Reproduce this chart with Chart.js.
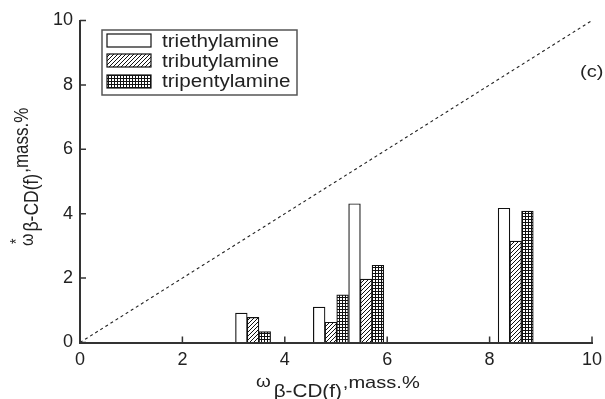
<!DOCTYPE html>
<html>
<head>
<meta charset="utf-8">
<script src="https://cdn.jsdelivr.net/npm/chart.js@4.4.1/dist/chart.umd.min.js"></script>
<style>
  html, body { margin: 0; padding: 0; background: #fff; }
  #chart { display: block; }
</style>
</head>
<body>
<canvas id="chart" width="605" height="399"></canvas>
<script>
// data
const seriesNames = ["triethylamine", "tributylamine", "tripentylamine"];
const feedConc = [3.38, 4.90, 5.59, 8.51];          // x, mass.%
const triethylamine = [0.91, 1.10, 4.31, 4.17];
const tributylamine = [0.78, 0.63, 1.97, 3.15];
const tripentylamine = [0.34, 1.48, 2.40, 4.08];
const diagonalX = [0, 10];
const diagonalY = [0, 10];
const axisTicks = [0, 2, 4, 6, 8, 10];

const FONT = '"Liberation Sans", Arial, Helvetica, sans-serif';
const INK = "#222";
const SX = 1.18; // the original figure is stretched sideways a bit

function makePattern(kind) {
  const c = document.createElement("canvas");
  const n = kind === "hatch" ? 4 : 3;
  c.width = n; c.height = n;
  const g = c.getContext("2d");
  g.fillStyle = "#fff";
  g.fillRect(0, 0, n, n);
  g.strokeStyle = "#111";
  g.lineWidth = 1;
  if (kind === "hatch") {
    g.beginPath();
    g.moveTo(-1, n + 1); g.lineTo(n + 1, -1);
    g.moveTo(-1, 1); g.lineTo(1, -1);
    g.moveTo(n - 1, n + 1); g.lineTo(n + 1, n - 1);
    g.stroke();
  } else {
    g.fillStyle = "#111";
    g.fillRect(0, 0, n, 1);
    g.fillRect(0, 0, 1, n);
  }
  return g.createPattern(c, "repeat");
}

const fills = ["#fff", makePattern("hatch"), makePattern("grid")];
const values = [triethylamine, tributylamine, tripentylamine];

const barSets = seriesNames.map((name, i) => ({
  type: "bar",
  label: name,
  data: feedConc.map((x, j) => ({ x, y: values[i][j] })),
  backgroundColor: fills[i],
  borderColor: "#111",
  borderWidth: 1.2,
  barThickness: 11.7,
  order: 2,
}));

const diagonalSet = {
  type: "line",
  label: "diagonal",
  data: diagonalX.map((x, i) => ({ x, y: diagonalY[i] })),
  borderColor: "#222",
  borderWidth: 1.1,
  borderDash: [3, 3],
  pointRadius: 0,
  fill: false,
  order: 1,
};

function txt(ctx, s, x, y, size) {
  ctx.save();
  ctx.font = size + "px " + FONT;
  ctx.translate(x, y);
  ctx.scale(SX, 1);
  ctx.fillText(s, 0, 0);
  const w = ctx.measureText(s).width * SX;
  ctx.restore();
  return w;
}

function rotTxt(ctx, s, bx, y, size) {
  ctx.save();
  ctx.font = size + "px " + FONT;
  ctx.translate(bx, y);
  ctx.rotate(-Math.PI / 2);
  ctx.scale(1, SX);
  ctx.fillText(s, 0, 0);
  const w = ctx.measureText(s).width;
  ctx.restore();
  return w;
}

const decorations = {
  id: "decorations",
  afterDraw(chart) {
    const ctx = chart.ctx;
    const xs = chart.scales.x, ys = chart.scales.y;
    const x0 = xs.getPixelForValue(0), y0 = ys.getPixelForValue(0);

    // inward tick marks
    ctx.save();
    ctx.strokeStyle = "#333";
    ctx.lineWidth = 1.5;
    ctx.beginPath();
    axisTicks.forEach(v => {
      const px = xs.getPixelForValue(v);
      ctx.moveTo(px, y0); ctx.lineTo(px, y0 - 6);
      const py = ys.getPixelForValue(v);
      ctx.moveTo(x0, py); ctx.lineTo(x0 + 6, py);
    });
    ctx.stroke();
    ctx.restore();

    ctx.save();
    ctx.fillStyle = INK;
    ctx.textBaseline = "alphabetic";
    ctx.textAlign = "left";

    // x title: omega, subscript group, then ",mass.%"
    let x = 256;
    x += txt(ctx, "ω", x, 387, 16) + 3;
    x += txt(ctx, "β-CD(f)", x, 396.5, 17.5) + 1;
    txt(ctx, ",mass.%", x, 388, 17);

    // y title, rotated
    let y = 246;
    rotTxt(ctx, "*", 22, 244, 14);
    y -= rotTxt(ctx, "ω", 33, y, 16) + 2;
    y -= rotTxt(ctx, "β-CD(f)", 38, y, 17.5) + 1;
    rotTxt(ctx, ",mass.%", 28, y, 17);

    // panel tag
    txt(ctx, "(c)", 580, 77, 17);

    // legend
    ctx.strokeStyle = "#555";
    ctx.lineWidth = 1.5;
    ctx.strokeRect(102, 30, 195, 65);
    const tops = [34, 54, 75];
    const bases = [47, 67, 87];
    chart.data.datasets.filter(d => d.type === "bar").forEach((d, i) => {
      ctx.fillStyle = d.backgroundColor;
      ctx.fillRect(107, tops[i], 44, 13);
      ctx.strokeStyle = "#111";
      ctx.lineWidth = 1.2;
      ctx.strokeRect(107, tops[i], 44, 13);
      ctx.fillStyle = INK;
      txt(ctx, d.label, 162, bases[i], 17.5);
    });
    ctx.restore();
  },
};

new Chart(document.getElementById("chart"), {
  type: "bar",
  data: { datasets: [...barSets, diagonalSet] },
  options: {
    responsive: false,
    animation: false,
    layout: { padding: { left: 0, right: 13, top: 20.5, bottom: 0 } },
    plugins: { legend: { display: false }, tooltip: { enabled: false } },
    scales: {
      x: {
        type: "linear",
        min: 0, max: 10,
        offset: false,
        grid: { display: true, drawOnChartArea: false, drawTicks: false, offset: false },
        border: { display: true, color: "#333", width: 2 },
        ticks: { stepSize: 2, padding: 7, color: INK, font: { family: FONT, size: 18 } },
        afterFit(s) { s.height = 56.5; s.paddingLeft = 0; s.paddingRight = 0; },
      },
      y: {
        type: "linear",
        min: 0, max: 10,
        grid: { display: true, drawOnChartArea: false, drawTicks: false },
        border: { display: true, color: "#333", width: 2 },
        ticks: { stepSize: 2, padding: 7, color: INK, font: { family: FONT, size: 18 } },
        afterFit(s) { s.width = 80; s.paddingTop = 0; s.paddingBottom = 0; },
      },
    },
  },
  plugins: [decorations],
});
</script>
</body>
</html>
